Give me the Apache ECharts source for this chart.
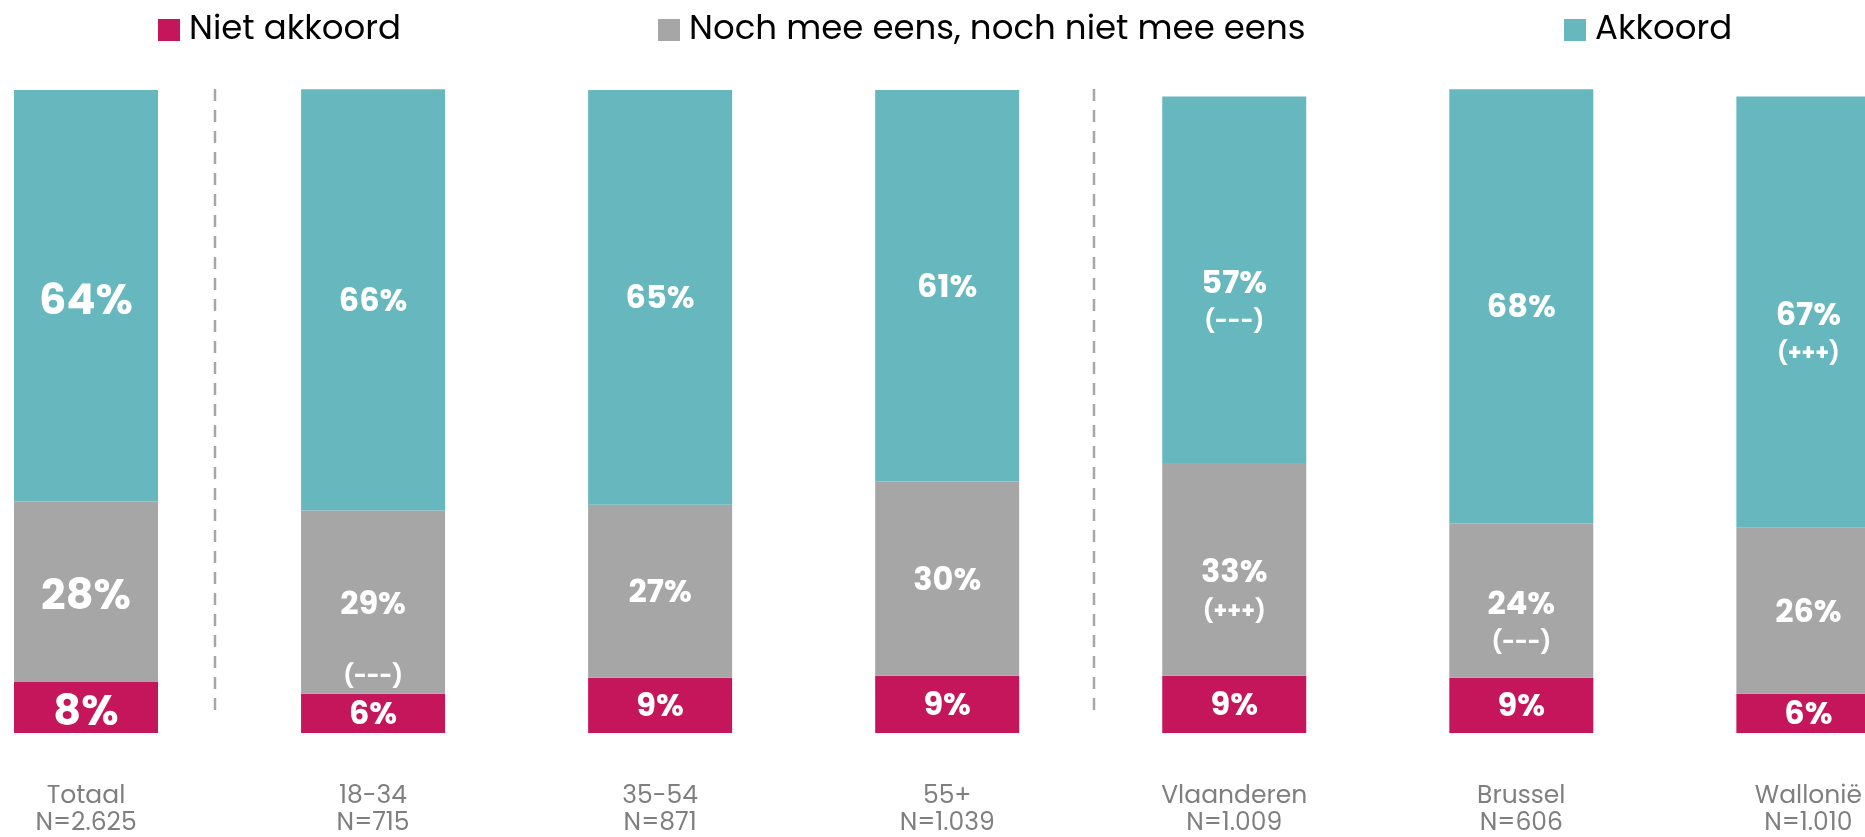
<!DOCTYPE html>
<html>
<head>
<meta charset="utf-8">
<script src="https://cdn.jsdelivr.net/npm/echarts@6/dist/echarts.min.js"></script>
<style>
  html, body { margin: 0; padding: 0; background: #fff; }
  #chart { width: 1865px; height: 837px; }
</style>
</head>
<body>
<div id="chart"></div>
<script>
// categorieën + steekproefgrootte
var categories = ['Totaal', '18-34', '35-54', '55+', 'Vlaanderen', 'Brussel', 'Wallonië'];
var sampleSizes = ['N=2.625', 'N=715', 'N=871', 'N=1.039', 'N=1.009', 'N=606', 'N=1.010'];

// percentages (geschat uit de balkhoogtes, afgerond = labels)
var nietAkkoord = [8.0, 6.1, 8.6, 8.9, 8.9, 8.6, 6.1];
var neutraal = [28.0, 28.5, 26.9, 30.2, 33.1, 24.0, 25.9];
var akkoord = [64.0, 65.5, 64.5, 60.9, 57.0, 67.5, 67.0];

// significantie-markeringen
var sigNiet = ['', '', '', '', '', '', ''];
var sigNeutraal = ['', '(---)', '', '', '(+++)', '(---)', ''];
var sigAkkoord = ['', '', '', '', '(---)', '', '(+++)'];

var FONT = 'Poppins, "Open Sans", sans-serif';
var colors = { niet: '#C5165B', neutraal: '#A6A6A6', akkoord: '#66B8BE' };

function richStyles(sLine) {
    return {
        v: { fontSize: 32, fontWeight: 'bold', color: '#fff', lineHeight: 40, fontFamily: FONT },
        s: { fontSize: 22, fontWeight: 'bold', color: '#fff', lineHeight: sLine, fontFamily: FONT },
        b: { fontSize: 43, fontWeight: 'bold', color: '#fff', lineHeight: 50, fontFamily: FONT }
    };
}

function makeSeries(name, values, sigs, color) {
    var data = values.map(function(v, i) {
        var item = { value: v };
        if (i === 0) {
            item.label = { offset: [0, 7] };
        } else if (sigs[i]) {
            item.label = { offset: [0, 23] };
            if (name === 'Noch mee eens, noch niet mee eens' && i === 1) { // extra ruimte bij 18-34
                item.label = { offset: [0, 55], rich: richStyles(102) };
            }
        } else {
            item.label = { offset: [0, 3] };
        }
        return item;
    });
    return {
        name: name,
        type: 'bar',
        stack: 'totaal',
        barWidth: 144,
        clip: false,
        itemStyle: { color: color },
        label: {
            show: true,
            position: 'inside',
            fontFamily: FONT,
            formatter: function(p) {
                var i = p.dataIndex;
                var key = i === 0 ? 'b' : 'v';
                var t = '{' + key + '|' + Math.round(p.value) + '%}';
                if (sigs[i]) t += '\n{s|' + sigs[i] + '}';
                return t;
            },
            rich: richStyles(36)
        },
        emphasis: { disabled: true },
        data: data
    };
}

function legendFor(name, left) {
    return {
        data: [name],
        left: left,
        top: 8,
        icon: 'rect',
        itemWidth: 22,
        itemHeight: 22,
        selectedMode: false,
        textStyle: { fontFamily: FONT, fontSize: 34, color: '#000', lineHeight: 34, padding: [0, 0, 0, 4] }
    };
}

var myChart = echarts.init(document.getElementById('chart'));
var option = {
    backgroundColor: '#fff',
    animation: false,
    legend: [
        legendFor('Niet akkoord', 153),
        legendFor('Noch mee eens, noch niet mee eens', 653),
        legendFor('Akkoord', 1559)
    ],
    grid: { left: 86, right: 52, top: 90, bottom: 104, containLabel: false },
    xAxis: {
        type: 'category',
        data: categories,
        boundaryGap: false,
        axisLine: { show: false },
        axisTick: { show: false },
        splitLine: { show: false },
        axisLabel: {
            margin: 50,
            color: '#7F7F7F',
            fontFamily: FONT,
            fontSize: 25,
            lineHeight: 27,
            interval: 0,
            formatter: function(v, i) { return v + '\n' + sampleSizes[i]; }
        }
    },
    yAxis: { type: 'value', min: 0, max: 100, show: false, splitLine: { show: false } },
    series: [
        makeSeries('Niet akkoord', nietAkkoord, sigNiet, colors.niet),
        makeSeries('Noch mee eens, noch niet mee eens', neutraal, sigNeutraal, colors.neutraal),
        makeSeries('Akkoord', akkoord, sigAkkoord, colors.akkoord)
    ]
};
myChart.setOption(option);

// stippellijnen tussen de groepen (Totaal | leeftijd | regio)
var dividers = [[0, 1, 0.45], [3, 4, 0.51]];
var yTop = myChart.convertToPixel({ yAxisIndex: 0 }, 100) - 1;
var yBot = myChart.convertToPixel({ yAxisIndex: 0 }, 3);
var lines = dividers.map(function(d) {
    var a = myChart.convertToPixel({ xAxisIndex: 0 }, categories[d[0]]);
    var b = myChart.convertToPixel({ xAxisIndex: 0 }, categories[d[1]]);
    var x = Math.round(a + (b - a) * d[2]);
    return {
        type: 'line',
        shape: { x1: x, y1: yTop, x2: x, y2: yBot },
        style: { stroke: '#A6A6A6', lineWidth: 2.5, lineDash: [12, 9] },
        silent: true
    };
});
myChart.setOption({ graphic: lines });
</script>
</body>
</html>
